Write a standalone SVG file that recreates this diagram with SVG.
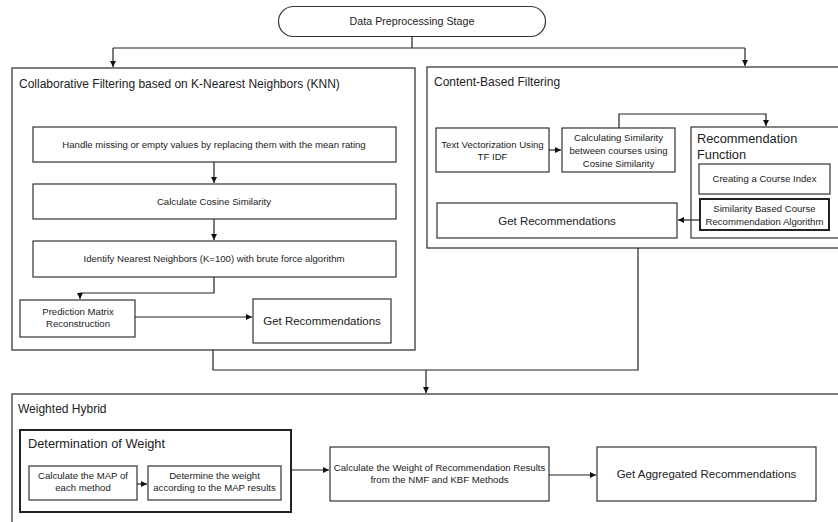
<svg xmlns="http://www.w3.org/2000/svg" width="838" height="522" viewBox="0 0 838 522">
<defs>
<marker id="ah" markerUnits="userSpaceOnUse" markerWidth="7" markerHeight="7" refX="6" refY="3" orient="auto">
<path d="M0,0 L6,3 L0,6 z" fill="#111"/>
</marker>
<style>
text{font-family:"Liberation Sans",Arial,sans-serif;fill:#222;}
.box{fill:#fff;stroke:#333;stroke-width:1.2;}
.cont{fill:#fff;stroke:#3a3a3a;stroke-width:1.3;}
.thick{fill:#fff;stroke:#222;stroke-width:2;}
.s{font-size:9.6px;}
.m{font-size:11.5px;}
.t{font-size:12px;}
.h{font-size:12.8px;}
.c{text-anchor:middle;}
.ln{fill:none;stroke:#222;stroke-width:1.2;}
.ar{fill:none;stroke:#222;stroke-width:1.2;marker-end:url(#ah);}
</style>
</defs>
<rect width="838" height="522" fill="#fff"/>

<g id="containers">
<rect id="cf" class="cont" x="12" y="68" width="403" height="282"/>
<rect id="cbf" class="cont" x="427" y="67" width="412" height="181"/>
<rect id="wh" class="cont" x="12" y="394" width="830" height="140"/>
</g>

<g id="start">
<rect class="box" x="278.5" y="6.5" width="267" height="30" rx="15" ry="15"/>
<text class="s c" x="412" y="25" style="font-size:10.7px">Data Preprocessing Stage</text>
</g>

<g id="cf-title"><text class="t" x="19" y="88">Collaborative Filtering based on K-Nearest Neighbors (KNN)</text></g>
<g id="cbf-title"><text class="t" x="434" y="86">Content-Based Filtering</text></g>
<g id="wh-title"><text class="t" x="18" y="413">Weighted Hybrid</text></g>

<g id="n-handle">
<rect class="box" x="33" y="127" width="363" height="35"/>
<text class="s c" x="214" y="148">Handle missing or empty values by replacing them with the mean rating</text>
</g>
<g id="n-cosine">
<rect class="box" x="33" y="184" width="363" height="35"/>
<text class="s c" x="214" y="205">Calculate Cosine Similarity</text>
</g>
<g id="n-knn">
<rect class="box" x="33" y="241" width="363" height="36"/>
<text class="s c" x="214" y="262">Identify Nearest Neighbors (K=100) with brute force algorithm</text>
</g>
<g id="n-pred">
<rect class="box" x="20" y="300" width="115" height="37"/>
<text class="s c" x="78" y="315">Prediction Matrix</text>
<text class="s c" x="78" y="327">Reconstruction</text>
</g>
<g id="n-getrec1">
<rect class="box" x="253" y="299" width="138" height="44"/>
<text class="m c" x="322" y="325">Get Recommendations</text>
</g>

<g id="n-tfidf">
<rect class="box" x="436" y="128" width="113" height="44"/>
<text class="s c" x="492.5" y="147.5">Text Vectorization Using</text>
<text class="s c" x="492.5" y="160">TF IDF</text>
</g>
<g id="n-simcalc">
<rect class="box" x="562" y="128" width="113" height="44"/>
<text class="s c" x="618.5" y="140.5">Calculating Similarity</text>
<text class="s c" x="618.5" y="153.5">between courses using</text>
<text class="s c" x="618.5" y="166.5">Cosine Similarity</text>
</g>
<g id="n-recfunc">
<rect class="box" x="691" y="127" width="150" height="111"/>
<text class="h" x="697" y="143">Recommendation</text>
<text class="h" x="697" y="159">Function</text>
</g>
<g id="n-index">
<rect class="box" x="699" y="164" width="131" height="30"/>
<text class="s c" x="764.5" y="182">Creating a Course Index</text>
</g>
<g id="n-simalgo">
<rect class="thick" x="700" y="199" width="129" height="31"/>
<text class="s c" x="764.5" y="212">Similarity Based Course</text>
<text class="s c" x="764.5" y="224.5">Recommendation Algorithm</text>
</g>
<g id="n-getrec2">
<rect class="box" x="437" y="203" width="240" height="35"/>
<text class="m c" x="557" y="225">Get Recommendations</text>
</g>

<g id="n-detweight">
<rect class="thick" x="20" y="430" width="271" height="82"/>
<text class="h" x="28" y="448">Determination of Weight</text>
</g>
<g id="n-map">
<rect class="box" x="29" y="466" width="108" height="34"/>
<text class="s c" x="83" y="479">Calculate the MAP of</text>
<text class="s c" x="83" y="491">each method</text>
</g>
<g id="n-detw2">
<rect class="box" x="148" y="466" width="133" height="34"/>
<text class="s c" x="214.5" y="479">Determine the weight</text>
<text class="s c" x="214.5" y="491">according to the MAP results</text>
</g>
<g id="n-calcw">
<rect class="box" x="330" y="447" width="219" height="54"/>
<text class="s c" x="439.5" y="471">Calculate the Weight of Recommendation Results</text>
<text class="s c" x="439.5" y="483">from the NMF and KBF Methods</text>
</g>
<g id="n-agg">
<rect class="box" x="597" y="447" width="219" height="54"/>
<text class="m c" x="706.5" y="478">Get Aggregated Recommendations</text>
</g>

<g id="connectors">
<path class="ln" d="M412,37 V48 M113,48 H745"/>
<path class="ar" d="M113,48 V67"/>
<path class="ar" d="M745,48 V66"/>
<path class="ar" d="M214,162 V183"/>
<path class="ar" d="M214,219 V240"/>
<path class="ar" d="M214,277 V293 H80 V299"/>
<path class="ar" d="M135,317 H252"/>
<path class="ar" d="M549,150 H561"/>
<path class="ar" d="M619,128 V114 H766 V126"/>
<path class="ar" d="M700,220 H678"/>
<path class="ln" d="M213,350 V370 H638 V248"/>
<path class="ar" d="M426,370 V393"/>
<path class="ar" d="M137,484 H147"/>
<path class="ar" d="M291,470 H329"/>
<path class="ar" d="M549,475 H596"/>
</g>
</svg>
